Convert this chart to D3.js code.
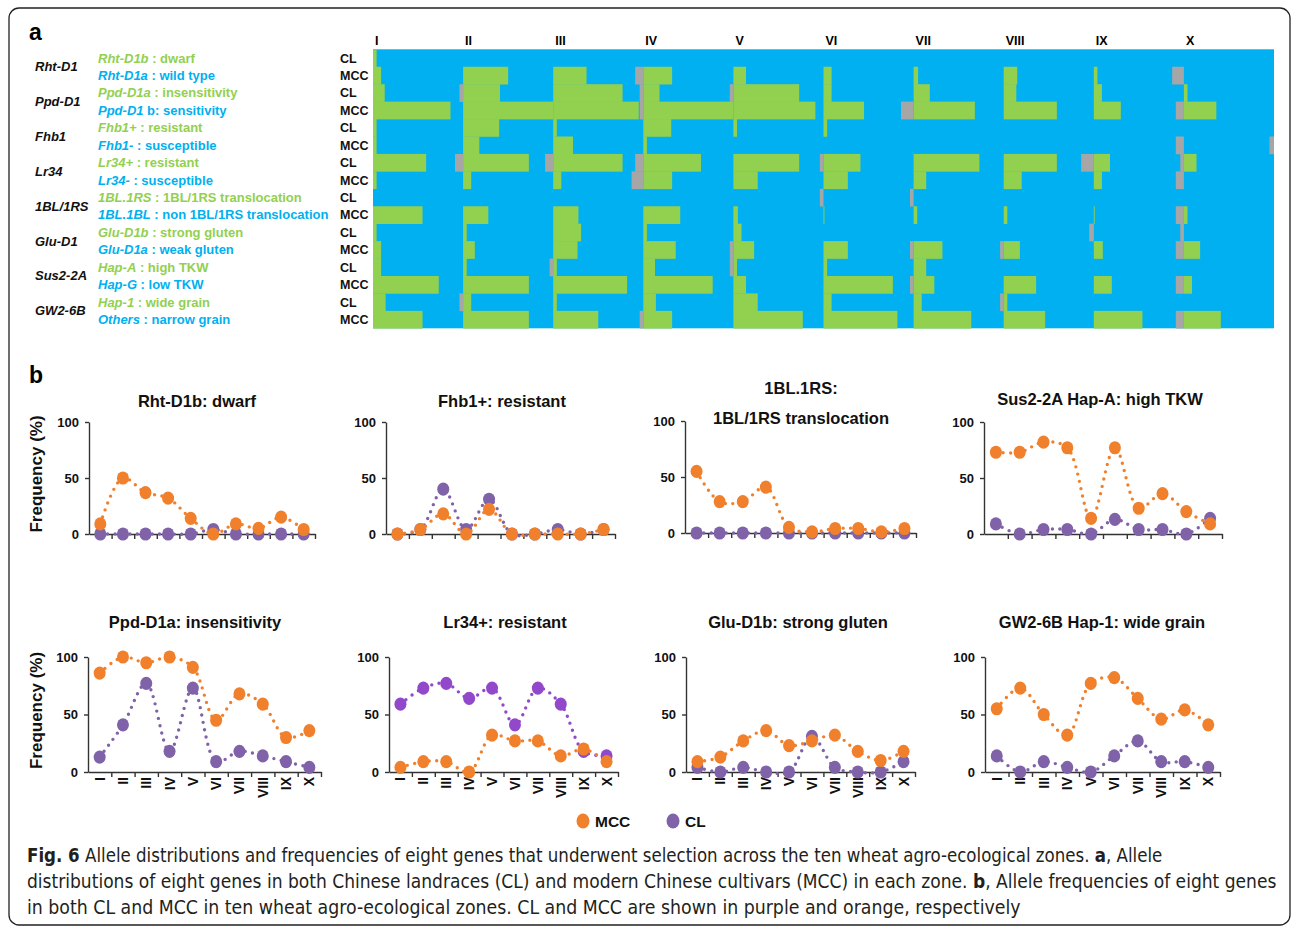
<!DOCTYPE html>
<html>
<head>
<meta charset="utf-8">
<script src="https://cdn.jsdelivr.net/npm/d3@7/dist/d3.min.js"></script>
<style>
  body { margin: 0; background: #fff; }
  svg text { font-family: "Liberation Sans", Arial, sans-serif; }
</style>
</head>
<body>
<svg id="fig" width="1292" height="927"></svg>
<script>
// ---- data ----
const zones = ["I", "II", "III", "IV", "V", "VI", "VII", "VIII", "IX", "X"];
const genes = ["Rht-D1", "Ppd-D1", "Fhb1", "Lr34", "1BL/1RS", "Glu-D1", "Sus2-2A", "GW2-6B"];
const groups = ["CL", "MCC"];

// frequency (%) of the selected allele in each zone
const rhtCL  = [0, 0, 0, 0, 0, 4, 0, 0, 0, 0];
const rhtMCC = [9, 50, 37, 32, 14, 0, 9, 5, 15, 4];
const ppdCL  = [13, 41, 77, 18, 73, 9, 18, 14, 9, 4];
const ppdMCC = [86, 100, 95, 100, 91, 45, 68, 59, 30, 36];
const fhbCL  = [0, 4, 40, 4, 31, 0, 0, 4, 0, 4];
const fhbMCC = [0, 4, 18, 0, 22, 0, 0, 0, 0, 4];
const lr34CL  = [59, 73, 77, 64, 73, 41, 73, 59, 18, 14];
const lr34MCC = [4, 9, 9, 0, 32, 27, 27, 14, 20, 9];
const bl1CL  = [0, 0, 0, 0, 0, 0, 0, 0, 0, 0];
const bl1MCC = [55, 28, 28, 41, 5, 1, 4, 4, 1, 4];
const gluCL  = [4, 0, 4, 0, 0, 31, 4, 0, 0, 9];
const gluMCC = [9, 13, 27, 36, 23, 27, 32, 18, 10, 18];
const susCL  = [9, 0, 4, 4, 0, 13, 4, 4, 0, 14];
const susMCC = [73, 73, 82, 77, 14, 77, 23, 36, 20, 9];
const gw2CL  = [14, 0, 9, 4, 0, 14, 27, 9, 9, 4];
const gw2MCC = [55, 73, 50, 32, 77, 82, 64, 46, 54, 41];

// missing genotypes (%) shown in grey just before each zone (last entry = right edge)
const rhtCLmiss  = [0, 0, 0, 0, 0, 0, 0, 0, 0, 0, 0];
const rhtMCCmiss = [0, 0, 0, 9, 0, 0, 0, 0, 0, 13, 0];
const ppdCLmiss  = [0, 4, 0, 4, 4, 0, 0, 0, 0, 0, 0];
const ppdMCCmiss = [0, 0, 0, 4, 0, 0, 14, 0, 0, 9, 0];
const fhbCLmiss  = [0, 0, 0, 0, 0, 0, 0, 0, 0, 0, 0];
const fhbMCCmiss = [0, 0, 0, 0, 0, 0, 0, 0, 0, 9, 5];
const lr34CLmiss  = [0, 9, 9, 9, 0, 4, 0, 0, 14, 4, 0];
const lr34MCCmiss = [0, 0, 0, 13, 0, 0, 0, 0, 0, 9, 0];
const bl1CLmiss  = [0, 0, 0, 0, 0, 4, 4, 0, 0, 0, 0];
const bl1MCCmiss = [0, 0, 0, 0, 0, 0, 0, 0, 0, 9, 0];
const gluCLmiss  = [0, 0, 0, 0, 0, 0, 0, 0, 5, 4, 0];
const gluMCCmiss = [0, 0, 0, 0, 4, 0, 4, 4, 0, 9, 0];
const susCLmiss  = [0, 0, 4, 0, 4, 0, 0, 0, 0, 0, 0];
const susMCCmiss = [0, 0, 0, 0, 0, 0, 4, 0, 0, 9, 0];
const gw2CLmiss  = [0, 4, 0, 0, 0, 0, 0, 4, 0, 0, 0];
const gw2MCCmiss = [0, 0, 0, 4, 0, 0, 0, 0, 0, 9, 0];

const alleleNames = ["Rht-D1b", "Rht-D1a", "Ppd-D1a", "Ppd-D1", "Fhb1+", "Fhb1-", "Lr34+", "Lr34-",
  "1BL.1RS", "1BL.1BL", "Glu-D1b", "Glu-D1a", "Hap-A", "Hap-G", "Hap-1", "Others"];
const alleleDescs = [" : dwarf", " : wild type", " : insensitivity", " b: sensitivity", " : resistant", " : susceptible",
  " : resistant", " : susceptible", " : 1BL/1RS translocation", " : non 1BL/1RS translocation",
  " : strong gluten", " : weak gluten", " : high TKW", " : low TKW", " : wide grain", " : narrow grain"];

const chartTitles = [["Rht-D1b: dwarf"], ["Fhb1+: resistant"], ["1BL.1RS:", "1BL/1RS translocation"],
  ["Sus2-2A Hap-A: high TKW"], ["Ppd-D1a: insensitivity"], ["Lr34+: resistant"],
  ["Glu-D1b: strong gluten"], ["GW2-6B Hap-1: wide grain"]];
const chartCL  = [rhtCL, fhbCL, bl1CL, susCL, ppdCL, lr34CL, gluCL, gw2CL];
const chartMCC = [rhtMCC, fhbMCC, bl1MCC, susMCC, ppdMCC, lr34MCC, gluMCC, gw2MCC];
const yTicks = [0, 50, 100];

// ---- drawing ----
const GREEN = "#92D050", BLUE = "#00B0F0", GREY = "#A6A6A6";
const ORANGE = "#F0802C", PURPLE = "#7F62A8";
const svg = d3.select("#fig");

// frame
svg.append("rect").attr("x", 9).attr("y", 8).attr("width", 1281).attr("height", 917)
  .attr("rx", 10).attr("fill", "none").attr("stroke", "#222").attr("stroke-width", 1.3);

// ===== panel a =====
svg.append("text").attr("x", 29).attr("y", 40).text("a")
  .style("font-size", "23px").style("font-weight", "bold");

const heatRows = [
  rhtCL, rhtMCC, ppdCL, ppdMCC, fhbCL, fhbMCC, lr34CL, lr34MCC,
  bl1CL, bl1MCC, gluCL, gluMCC, susCL, susMCC, gw2CL, gw2MCC];
const heatMiss = [
  rhtCLmiss, rhtMCCmiss, ppdCLmiss, ppdMCCmiss, fhbCLmiss, fhbMCCmiss, lr34CLmiss, lr34MCCmiss,
  bl1CLmiss, bl1MCCmiss, gluCLmiss, gluMCCmiss, susCLmiss, susMCCmiss, gw2CLmiss, gw2MCCmiss];

const hx = d3.scaleBand().domain(zones).range([373, 1274]);
const hy = d3.scaleBand().domain(d3.range(heatRows.length)).range([49.3, 328.3]);
const zw = hx.bandwidth(), rh = hy.bandwidth();
const zoneStart = i => i < zones.length ? hx(zones[i]) : hx.range()[1];

const gHeat = svg.append("g");
gHeat.append("rect").attr("x", hx.range()[0]).attr("y", hy.range()[0])
  .attr("width", hx.range()[1] - hx.range()[0]).attr("height", hy.range()[1] - hy.range()[0])
  .attr("fill", BLUE);

heatRows.forEach((vals, r) => {
  gHeat.selectAll(null).data(vals).join("rect")
    .filter(d => d > 0)
    .attr("x", (d, i) => zoneStart(i))
    .attr("y", hy(r)).attr("height", rh + 0.3)
    .attr("width", d => d / 100 * zw)
    .attr("fill", GREEN);
});
heatMiss.forEach((vals, r) => {
  gHeat.selectAll(null).data(vals.map((d, i) => ({d, i})).filter(o => o.d > 0)).join("rect")
    .attr("x", o => zoneStart(o.i) - o.d / 100 * zw)
    .attr("y", hy(r)).attr("height", rh + 0.3)
    .attr("width", o => o.d / 100 * zw)
    .attr("fill", GREY);
});

// zone headers
svg.selectAll(".zone-head").data(zones).join("text")
  .attr("class", "zone-head")
  .attr("x", d => hx(d) + 2).attr("y", 45)
  .text(d => d).style("font-size", "12.5px").style("font-weight", "bold");

// gene names
svg.selectAll(".gene-name").data(genes).join("text")
  .attr("class", "gene-name")
  .attr("x", 35).attr("y", (d, i) => hy(2 * i + 1) + 4.5)
  .text(d => d).style("font-size", "13px").style("font-weight", "bold").style("font-style", "italic")
  .attr("fill", "#111");

// allele labels
const alleleText = svg.selectAll(".allele").data(alleleNames).join("text")
  .attr("class", "allele")
  .attr("x", 98).attr("y", (d, i) => hy(i) + rh / 2 + 4.5)
  .attr("fill", (d, i) => i % 2 === 0 ? GREEN : BLUE)
  .style("font-size", "13px").style("font-weight", "bold");
alleleText.append("tspan").style("font-style", "italic").text(d => d);
alleleText.append("tspan").text((d, i) => alleleDescs[i]);

// CL / MCC labels
svg.selectAll(".grp").data(heatRows).join("text")
  .attr("class", "grp")
  .attr("x", 340).attr("y", (d, i) => hy(i) + rh / 2 + 4.5)
  .text((d, i) => groups[i % 2])
  .style("font-size", "12.5px").style("font-weight", "bold").attr("fill", "#111");

// ===== panel b =====
svg.append("text").attr("x", 29).attr("y", 383).text("b")
  .style("font-size", "23px").style("font-weight", "bold");

const layout = [
  {x0: 89, x1: 315, top: 422, bot: 534, tx: 197, ty: [407]},
  {x0: 386, x1: 615, top: 422, bot: 534, tx: 502, ty: [407]},
  {x0: 685, x1: 916, top: 421, bot: 533, tx: 801, ty: [394, 424]},
  {x0: 984, x1: 1222, top: 422, bot: 534, tx: 1100, ty: [405]},
  {x0: 88, x1: 321, top: 657, bot: 772, tx: 195, ty: [628]},
  {x0: 389, x1: 618, top: 657, bot: 772, tx: 505, ty: [628]},
  {x0: 686, x1: 915, top: 657, bot: 772, tx: 798, ty: [628]},
  {x0: 985, x1: 1220, top: 657, bot: 772, tx: 1102, ty: [628]}
];

chartTitles.forEach((title, i) => {
  const L = layout[i];
  const g = svg.append("g");
  const x = d3.scaleBand().domain(zones).range([L.x0, L.x1]);
  const xl = d3.scaleLinear().domain([0, zones.length]).range([L.x0, L.x1]);
  const y = d3.scaleLinear().domain([0, 100]).range([L.bot, L.top]);
  const bw = x.bandwidth();
  const purple = i === 5 ? "#9248CB" : PURPLE;

  title.forEach((t, k) => {
    g.append("text").attr("x", L.tx).attr("y", L.ty[k]).attr("text-anchor", "middle")
      .text(t).style("font-size", "16.5px").style("font-weight", "bold").attr("fill", "#111");
  });

  const ya = g.append("g").attr("transform", `translate(${L.x0},0)`)
    .call(d3.axisLeft(y).tickValues(yTicks).tickSize(4).tickSizeOuter(0).tickPadding(6));
  const xa = g.append("g").attr("transform", `translate(0,${L.bot})`)
    .call(d3.axisBottom(xl).tickValues(d3.range(1, zones.length + 1)).tickFormat("").tickSize(5).tickSizeOuter(0));
  [ya, xa].forEach(a => {
    a.selectAll("path, line").attr("stroke", "#333").attr("stroke-width", 1.4);
    a.selectAll("text").style("font-size", "13px").style("font-weight", "bold").attr("fill", "#111")
      .style("font-family", "'Liberation Sans', Arial, sans-serif");
  });

  if (i >= 4) {
    g.selectAll(".xlab").data(zones).join("text")
      .attr("transform", d => `translate(${x(d) + bw / 2 + 5},${L.bot + 5}) rotate(-90)`)
      .attr("text-anchor", "end").text(d => d)
      .style("font-size", "14px").style("font-weight", "bold").attr("fill", "#111");
  }
  if (i % 4 === 0) {
    g.append("text").attr("transform", `translate(42,${(L.top + L.bot) / 2 - 4}) rotate(-90)`)
      .attr("text-anchor", "middle").text("Frequency (%)")
      .style("font-size", "17px").style("font-weight", "bold").attr("fill", "#111");
  }

  const line = d3.line().x((d, j) => x(zones[j]) + bw / 2).y(d => y(d)).curve(d3.curveCatmullRom);
  [[chartCL[i], purple], [chartMCC[i], ORANGE]].forEach(([vals, col]) => {
    g.append("path").attr("d", line(vals)).attr("fill", "none").attr("stroke", col)
      .attr("stroke-width", 3.4).attr("stroke-linecap", "round").attr("stroke-dasharray", "0 7.4");
    g.selectAll(null).data(vals).join("ellipse")
      .attr("cx", (d, j) => x(zones[j]) + bw / 2).attr("cy", d => y(d))
      .attr("rx", 6).attr("ry", 6.6).attr("fill", col);
  });
});

// legend
const legend = [["MCC", ORANGE, 583], ["CL", PURPLE, 673]];
legend.forEach(([name, col, lx]) => {
  svg.append("ellipse").attr("cx", lx).attr("cy", 821).attr("rx", 6.5).attr("ry", 7.5).attr("fill", col);
  svg.append("text").attr("x", lx + 12).attr("y", 826.5).text(name)
    .style("font-size", "15.5px").style("font-weight", "bold").attr("fill", "#111");
});

// ===== caption =====
const caption = [
  {y: 862, w: 1136, parts: [["Fig. 6", true], [" Allele distributions and frequencies of eight genes that underwent selection across the ten wheat agro-ecological zones. ", false], ["a", true], [", Allele", false]]},
  {y: 888, w: 1250, parts: [["distributions of eight genes in both Chinese landraces (CL) and modern Chinese cultivars (MCC) in each zone. ", false], ["b", true], [", Allele frequencies of eight genes", false]]},
  {y: 914, w: 994, parts: [["in both CL and MCC in ten wheat agro-ecological zones. CL and MCC are shown in purple and orange, respectively", false]]}
];
caption.forEach(c => {
  const t = svg.append("text").attr("x", 0).attr("y", 0)
    .style("font-family", "'Liberation Sans Narrow', 'DejaVu Sans Condensed', 'Liberation Sans', sans-serif")
    .style("font-size", "19px").attr("fill", "#231F20");
  c.parts.forEach(([s, b]) => t.append("tspan").text(s).style("font-weight", b ? "bold" : "normal"));
  const w = t.node().getBBox().width;
  t.attr("transform", `translate(27,${c.y}) scale(${c.w / w},1)`);
});
</script>
</body>
</html>
